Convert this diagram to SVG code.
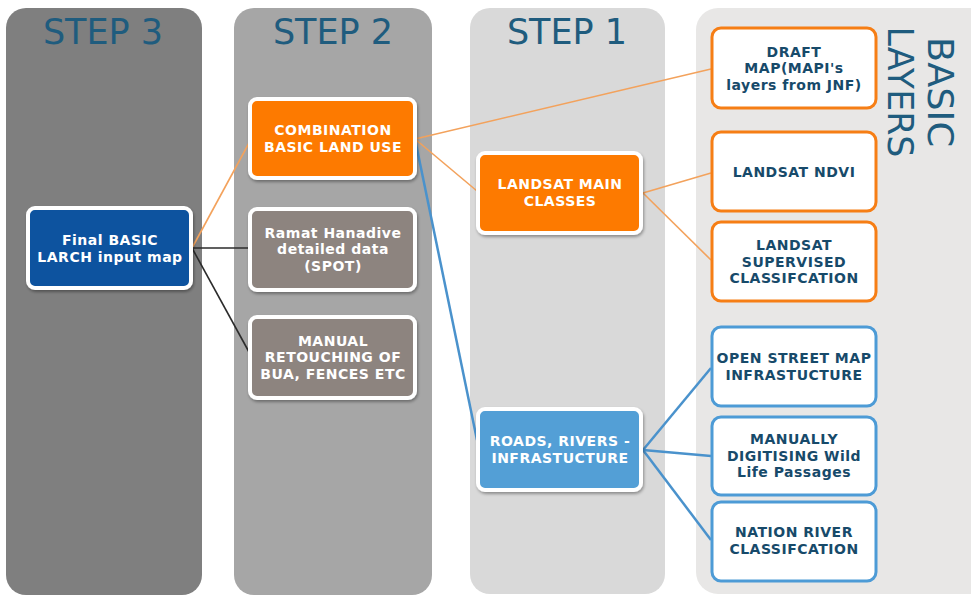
<svg xmlns="http://www.w3.org/2000/svg" width="971" height="595" viewBox="0 0 971 595">
<defs>
<filter id="sh" x="-10%" y="-10%" width="125%" height="130%">
<feDropShadow dx="1" dy="2" stdDeviation="1.5" flood-color="#000" flood-opacity="0.35"/>
</filter>
<style>
.hd{font-family:"DejaVu Sans",Verdana,sans-serif;font-size:35px;fill:#1f5c7e;text-anchor:middle}
.t{font-family:"DejaVu Sans",Verdana,sans-serif;font-weight:bold;font-size:14px;letter-spacing:0.5px;text-anchor:middle}
.w{fill:#ffffff}
.d{fill:#174a6a}
.sn{stroke:#ffffff;stroke-width:4;filter:url(#sh)}
.bo{fill:#ffffff;stroke:#f67e15;stroke-width:3}
.bb{fill:#ffffff;stroke:#4d9bd6;stroke-width:3}
.co{stroke:#f3a25c;stroke-width:1.6;fill:none}
.cb{stroke:#4a92cc;stroke-width:2.5;fill:none}
.ck{stroke:#2b2b2b;stroke-width:1.6;fill:none}
</style>
</defs>
<rect width="971" height="595" fill="#ffffff"/>
<g id="panels">
<rect x="6" y="8" width="196" height="587" rx="20" fill="#7f7f7f"/>
<rect x="234" y="8" width="198" height="587" rx="20" fill="#a6a6a6"/>
<rect x="470" y="8" width="195" height="586" rx="20" fill="#d9d9d9"/>
<rect x="696" y="8" width="300" height="586" rx="22" fill="#e8e7e6"/>
<text class="hd" x="103" y="44">STEP 3</text>
<text class="hd" x="333" y="44">STEP 2</text>
<text class="hd" x="567" y="44">STEP 1</text>
<text class="hd" transform="translate(928,92) rotate(90)" font-size="40" textLength="110" lengthAdjust="spacingAndGlyphs">BASIC</text>
<text class="hd" transform="translate(888,92) rotate(90)" font-size="40" textLength="131" lengthAdjust="spacingAndGlyphs">LAYERS</text>
</g>
<g id="connectors">
<line class="co" x1="192" y1="248" x2="249" y2="143"/>
<line class="ck" x1="192" y1="248" x2="249" y2="248"/>
<line class="ck" x1="192" y1="248" x2="249" y2="352"/>
<line class="co" x1="415" y1="139" x2="711" y2="69"/>
<line class="co" x1="415" y1="139" x2="477" y2="191"/>
<line class="cb" x1="415" y1="139" x2="477" y2="440"/>
<line class="co" x1="643" y1="193" x2="711" y2="173"/>
<line class="co" x1="643" y1="193" x2="711" y2="260"/>
<line class="cb" stroke-width="3" x1="643" y1="450" x2="711" y2="368"/>
<line class="cb" stroke-width="3" x1="643" y1="450" x2="711" y2="456"/>
<line class="cb" stroke-width="3" x1="643" y1="450" x2="711" y2="540"/>
</g>
<g id="final">
<rect class="sn" x="28" y="208" width="163" height="80" rx="7" fill="#07529f"/>
<text class="t w" x="110" y="245">Final BASIC</text>
<text class="t w" x="110" y="261.5">LARCH input map</text>
</g>
<g id="combination">
<rect class="sn" x="250" y="99" width="165" height="79" rx="7" fill="#fd7a02"/>
<text class="t w" x="333" y="135">COMBINATION</text>
<text class="t w" x="333" y="151.5">BASIC LAND USE</text>
</g>
<g id="ramat">
<rect class="sn" x="250" y="209" width="165" height="81" rx="7" fill="#8d847f"/>
<text class="t w" x="333" y="237.5">Ramat Hanadive</text>
<text class="t w" x="333" y="254">detailed data</text>
<text class="t w" x="333" y="270.5">(SPOT)</text>
</g>
<g id="manual">
<rect class="sn" x="250" y="317" width="165" height="81" rx="7" fill="#8d847f"/>
<text class="t w" x="333" y="345.5">MANUAL</text>
<text class="t w" x="333" y="362">RETOUCHING OF</text>
<text class="t w" x="333" y="378.5">BUA, FENCES ETC</text>
</g>
<g id="landsat-main">
<rect class="sn" x="478" y="153" width="163" height="80" rx="7" fill="#fd7a02"/>
<text class="t w" x="560" y="189">LANDSAT MAIN</text>
<text class="t w" x="560" y="205.5">CLASSES</text>
</g>
<g id="roads">
<rect class="sn" x="478" y="409" width="163" height="81" rx="7" fill="#529fd6"/>
<text class="t w" x="560" y="446">ROADS, RIVERS -</text>
<text class="t w" x="560" y="462.5">INFRASTUCTURE</text>
</g>
<g id="draft">
<rect class="bo" x="712" y="28" width="164" height="80" rx="9"/>
<text class="t d" x="794" y="56.5">DRAFT</text>
<text class="t d" x="794" y="73">MAP(MAPI's</text>
<text class="t d" x="794" y="89.5">layers from JNF)</text>
</g>
<g id="ndvi">
<rect class="bo" x="712" y="132" width="164" height="79" rx="9"/>
<text class="t d" x="794" y="177">LANDSAT NDVI</text>
</g>
<g id="supervised">
<rect class="bo" x="712" y="222" width="164" height="79" rx="9"/>
<text class="t d" x="794" y="250">LANDSAT</text>
<text class="t d" x="794" y="266.5">SUPERVISED</text>
<text class="t d" x="794" y="283">CLASSIFCATION</text>
</g>
<g id="osm">
<rect class="bb" x="712" y="327" width="164" height="79" rx="9"/>
<text class="t d" x="794" y="363">OPEN STREET MAP</text>
<text class="t d" x="794" y="379.5">INFRASTUCTURE</text>
</g>
<g id="wildlife">
<rect class="bb" x="712" y="417" width="164" height="78" rx="9"/>
<text class="t d" x="794" y="444">MANUALLY</text>
<text class="t d" x="794" y="460.5">DIGITISING Wild</text>
<text class="t d" x="794" y="477">Life Passages</text>
</g>
<g id="river">
<rect class="bb" x="712" y="502" width="164" height="79" rx="9"/>
<text class="t d" x="794" y="537">NATION RIVER</text>
<text class="t d" x="794" y="553.5">CLASSIFCATION</text>
</g>
</svg>
